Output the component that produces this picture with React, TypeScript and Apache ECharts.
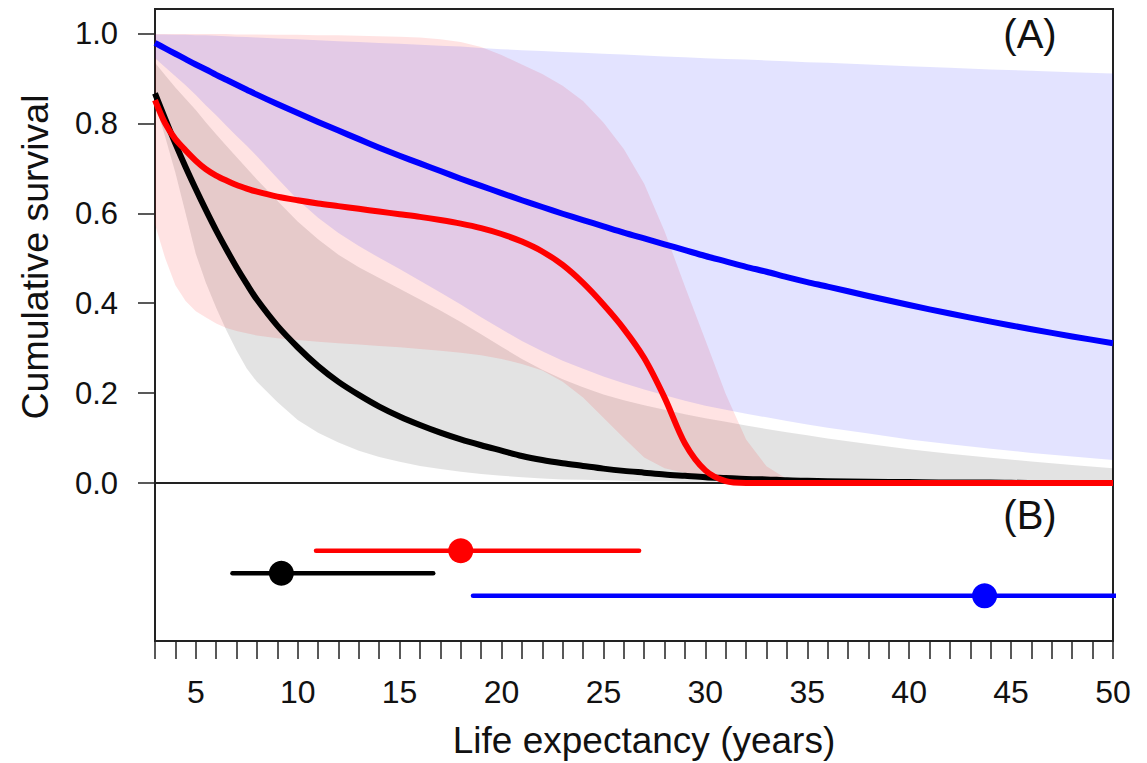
import React, { useEffect, useRef } from "react";
import * as echarts from "echarts";

// Age grid (years) at which the survival curves are read
const ages = [3, 3.5, 4, 4.5, 5, 5.5, 6, 6.5, 7, 7.5, 8, 9, 10, 11, 12, 13, 14, 15, 16, 17, 18, 19, 20, 21, 22, 23, 24, 25, 26, 27, 28, 29, 30, 31, 32, 33, 34, 35, 36, 38, 40, 42, 44, 46, 48, 50];

// Black group
const blackMean = [0.867, 0.81, 0.755, 0.703, 0.654, 0.607, 0.562, 0.52, 0.48, 0.443, 0.408, 0.35, 0.302, 0.26, 0.225, 0.196, 0.17, 0.148, 0.129, 0.112, 0.097, 0.084, 0.072, 0.06, 0.051, 0.044, 0.038, 0.032, 0.027, 0.023, 0.019, 0.016, 0.013, 0.011, 0.009, 0.008, 0.006, 0.005, 0.004, 0.003, 0.002, 0.001, 0.001, 0, 0, 0];
const blackUpper = [0.935, 0.907, 0.88, 0.855, 0.83, 0.802, 0.776, 0.75, 0.725, 0.7, 0.675, 0.628, 0.582, 0.542, 0.508, 0.48, 0.456, 0.432, 0.408, 0.384, 0.358, 0.331, 0.303, 0.276, 0.252, 0.231, 0.213, 0.197, 0.184, 0.173, 0.163, 0.153, 0.144, 0.136, 0.128, 0.12, 0.113, 0.106, 0.099, 0.087, 0.075, 0.065, 0.056, 0.048, 0.04, 0.033];
const blackLower = [0.845, 0.77, 0.69, 0.6, 0.51, 0.445, 0.39, 0.34, 0.295, 0.255, 0.225, 0.18, 0.14, 0.112, 0.09, 0.072, 0.058, 0.047, 0.038, 0.031, 0.025, 0.02, 0.016, 0.013, 0.01, 0.008, 0.007, 0.006, 0.005, 0.004, 0.004, 0.003, 0.003, 0.002, 0.002, 0.002, 0.001, 0.001, 0.001, 0, 0, 0, 0, 0, 0, 0];

// Red group
const redMean = [0.852, 0.8, 0.765, 0.74, 0.717, 0.698, 0.684, 0.673, 0.663, 0.655, 0.648, 0.637, 0.629, 0.622, 0.616, 0.61, 0.604, 0.598, 0.592, 0.585, 0.577, 0.567, 0.554, 0.537, 0.515, 0.485, 0.445, 0.397, 0.343, 0.278, 0.19, 0.088, 0.028, 0.004, 0, 0, 0, 0, 0, 0, 0, 0, 0, 0, 0, 0];
const redUpper = [0.999, 0.999, 0.999, 0.999, 0.999, 0.999, 0.999, 0.999, 0.998, 0.998, 0.998, 0.997, 0.997, 0.996, 0.996, 0.995, 0.994, 0.993, 0.991, 0.987, 0.981, 0.97, 0.952, 0.931, 0.91, 0.884, 0.85, 0.802, 0.743, 0.666, 0.56, 0.437, 0.318, 0.198, 0.097, 0.037, 0.009, 0, 0, 0, 0, 0, 0, 0, 0, 0];
const redLower = [0.575, 0.5, 0.44, 0.405, 0.382, 0.368, 0.355, 0.345, 0.338, 0.333, 0.328, 0.322, 0.318, 0.314, 0.311, 0.308, 0.305, 0.302, 0.298, 0.294, 0.29, 0.284, 0.276, 0.265, 0.25, 0.225, 0.19, 0.145, 0.1, 0.057, 0.033, 0.022, 0.017, 0.013, 0.009, 0.005, 0.002, 0, 0, 0, 0, 0, 0, 0, 0, 0];

// Blue group
const blueMean = [0.979, 0.967, 0.955, 0.943, 0.931, 0.92, 0.908, 0.897, 0.886, 0.875, 0.864, 0.843, 0.823, 0.803, 0.784, 0.765, 0.746, 0.728, 0.711, 0.694, 0.677, 0.661, 0.645, 0.629, 0.614, 0.599, 0.585, 0.571, 0.557, 0.544, 0.531, 0.518, 0.505, 0.493, 0.481, 0.47, 0.458, 0.447, 0.437, 0.416, 0.396, 0.377, 0.359, 0.342, 0.326, 0.311];
const blueUpper = [0.998, 0.998, 0.997, 0.997, 0.996, 0.996, 0.995, 0.994, 0.993, 0.992, 0.991, 0.989, 0.987, 0.985, 0.983, 0.981, 0.979, 0.977, 0.975, 0.973, 0.971, 0.968, 0.965, 0.963, 0.961, 0.959, 0.957, 0.955, 0.953, 0.951, 0.949, 0.947, 0.945, 0.943, 0.942, 0.94, 0.938, 0.936, 0.935, 0.931, 0.927, 0.924, 0.92, 0.917, 0.914, 0.911];
const blueLower = [0.945, 0.925, 0.905, 0.885, 0.863, 0.84, 0.818, 0.795, 0.772, 0.75, 0.727, 0.678, 0.63, 0.59, 0.556, 0.527, 0.501, 0.476, 0.45, 0.424, 0.397, 0.369, 0.342, 0.316, 0.293, 0.272, 0.254, 0.237, 0.222, 0.208, 0.195, 0.183, 0.172, 0.163, 0.154, 0.146, 0.138, 0.13, 0.123, 0.11, 0.097, 0.086, 0.076, 0.067, 0.059, 0.051];

// Panel B: life expectancy estimates with intervals
const groupNames = ["black", "red", "blue"];
const groupColors = ["#000000", "#ff0000", "#0000ff"];
const lifeLow = [6.8, 10.9, 18.6];
const lifeEstimate = [9.2, 18.0, 43.7];
const lifeHigh = [16.65, 26.75, 60];
const rowLevel = [3, 4, 2];

// Axis ticks
const survivalTicks = [0, 0.2, 0.4, 0.6, 0.8, 1.0];
const ageLabels = [5, 10, 15, 20, 25, 30, 35, 40, 45, 50];

const FONT = "'Liberation Sans', Arial, Helvetica, sans-serif";

function bandSeries(name: string, lower: number[], upper: number[], fill: string, z: number) {
  return {
    type: "custom",
    name,
    xAxisIndex: 0,
    yAxisIndex: 0,
    z,
    silent: true,
    clip: true,
    data: [[ages[0], upper[0]]],
    renderItem: (_params: any, api: any) => {
      const pts: number[][] = [];
      for (let i = 0; i < ages.length; i++) pts.push(api.coord([ages[i], upper[i]]));
      for (let i = ages.length - 1; i >= 0; i--) pts.push(api.coord([ages[i], lower[i]]));
      return { type: "polygon", shape: { points: pts }, style: { fill } };
    },
  };
}

function meanSeries(name: string, values: number[], color: string, z: number) {
  return {
    type: "line",
    name,
    xAxisIndex: 0,
    yAxisIndex: 0,
    z,
    clip: false,
    symbol: "none",
    smooth: 0.3,
    data: ages.map((a, i) => [a, values[i]]),
    lineStyle: { color, width: 6, cap: "butt", join: "round" },
  };
}

export default function App() {
  const ref = useRef<HTMLDivElement>(null);
  useEffect(() => {
    if (!ref.current) return;
    const chart = echarts.init(ref.current, undefined, { renderer: "svg" });

    const intervalSeries: any[] = [];
    groupNames.forEach((g, i) => {
      intervalSeries.push({
        type: "line",
        name: g + " interval",
        xAxisIndex: 1,
        yAxisIndex: 1,
        symbol: "none",
        clip: true,
        z: 5,
        data: [
          [lifeLow[i], rowLevel[i]],
          [lifeHigh[i], rowLevel[i]],
        ],
        lineStyle: { color: groupColors[i], width: 4.5, cap: "round" },
      });
    });
    groupNames.forEach((g, i) => {
      intervalSeries.push({
        type: "scatter",
        name: g + " estimate",
        xAxisIndex: 1,
        yAxisIndex: 1,
        z: 6,
        symbol: "circle",
        symbolSize: 25,
        data: [[lifeEstimate[i], rowLevel[i]]],
        itemStyle: { color: groupColors[i], opacity: 1 },
      });
    });

    const option: any = {
      animation: false,
      backgroundColor: "#ffffff",
      grid: [
        { left: 155, right: 34, top: 9, height: 474, show: true, borderColor: "#222", borderWidth: 2, backgroundColor: "transparent" },
        { left: 155, right: 34, top: 483, height: 158, show: true, borderColor: "#222", borderWidth: 2, backgroundColor: "transparent" },
      ],
      xAxis: [
        {
          type: "value",
          gridIndex: 0,
          min: 3,
          max: 50,
          axisLine: { show: false },
          axisTick: { show: false },
          axisLabel: { show: false },
          splitLine: { show: false },
        },
        {
          type: "value",
          gridIndex: 1,
          min: 3,
          max: 50,
          interval: 1,
          axisLine: { show: false },
          axisTick: { show: true, length: 18, lineStyle: { color: "#222", width: 1.5 } },
          axisLabel: {
            show: true,
            customValues: ageLabels,
            fontSize: 32,
            fontFamily: FONT,
            color: "#111",
            margin: 35,
          },
          splitLine: { show: false },
        },
      ],
      yAxis: [
        {
          type: "value",
          gridIndex: 0,
          min: 0,
          max: 1.0545,
          axisLine: { show: false },
          axisTick: { show: true, length: 17, customValues: survivalTicks, lineStyle: { color: "#222", width: 1.5 } },
          axisLabel: {
            show: true,
            customValues: survivalTicks,
            formatter: (v: number) => v.toFixed(1),
            fontSize: 31,
            fontFamily: FONT,
            color: "#111",
            margin: 37,
          },
          splitLine: { show: false },
        },
        {
          type: "value",
          gridIndex: 1,
          min: 0,
          max: 7,
          show: false,
          splitLine: { show: false },
        },
      ],
      graphic: [
        {
          type: "text",
          x: 35,
          y: 257,
          rotation: Math.PI / 2,
          style: { text: "Cumulative survival", fontSize: 37.5, fontFamily: FONT, fill: "#111", align: "center", verticalAlign: "middle" },
        },
        {
          type: "text",
          x: 644,
          y: 740,
          style: { text: "Life expectancy (years)", fontSize: 37, fontFamily: FONT, fill: "#111", align: "center", verticalAlign: "middle" },
        },
        {
          type: "text",
          x: 1030,
          y: 34,
          style: { text: "(A)", fontSize: 40, fontFamily: FONT, fill: "#111", align: "center", verticalAlign: "middle" },
        },
        {
          type: "text",
          x: 1030,
          y: 515,
          style: { text: "(B)", fontSize: 40, fontFamily: FONT, fill: "#111", align: "center", verticalAlign: "middle" },
        },
      ],
      series: [
        bandSeries("black band", blackLower, blackUpper, "rgba(0,0,0,0.11)", 1),
        bandSeries("red band", redLower, redUpper, "rgba(255,0,0,0.11)", 1),
        bandSeries("blue band", blueLower, blueUpper, "rgba(0,0,255,0.11)", 1),
        meanSeries("blue", blueMean, "#0000ff", 3),
        meanSeries("black", blackMean, "#000000", 4),
        meanSeries("red", redMean, "#ff0000", 5),
        ...intervalSeries,
      ],
    };
    chart.setOption(option);
    return () => chart.dispose();
  }, []);

  return <div ref={ref} style={{ position: "fixed", left: 0, top: 0, width: 1147, height: 763 }} />;
}
